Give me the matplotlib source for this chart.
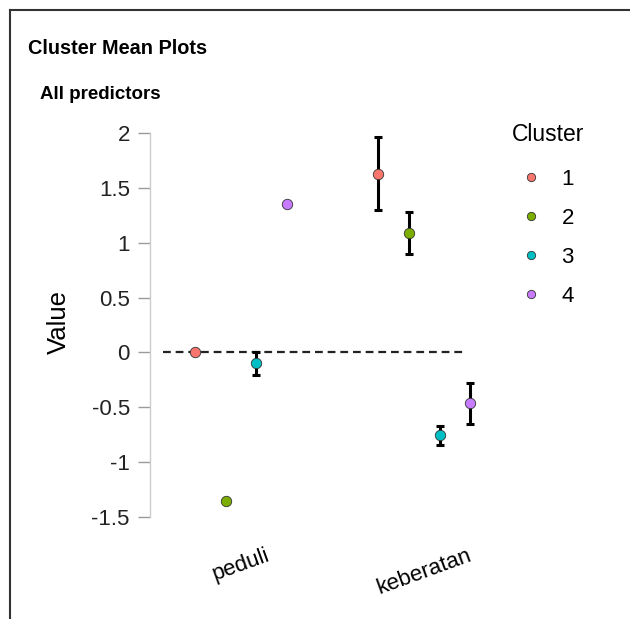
import matplotlib
matplotlib.use("Agg")
from matplotlib import pyplot as plt
from matplotlib.lines import Line2D
from matplotlib.transforms import ScaledTranslation
import numpy as np

plt.rcParams['font.family'] = ['Liberation Sans', 'DejaVu Sans']

# data
predictors = ['peduli', 'keberatan']
clusters = ['1', '2', '3', '4']
colors = ['#F8766D', '#7CAE00', '#00BFC4', '#C77CFF']
means = {
    '1': [0.0, 1.63],
    '2': [-1.35, 1.085],
    '3': [-0.10, -0.757],
    '4': [1.35, -0.465],
}
errs = {
    '1': [0.0, 0.33],
    '2': [0.0, 0.19],
    '3': [0.105, 0.088],
    '4': [0.0, 0.187],
}
yticks = [-1.5, -1, -0.5, 0, 0.5, 1, 1.5, 2]
ytick_labels = ['-1.5', '-1', '-0.5', '0', '0.5', '1', '1.5', '2']

fig = plt.figure(figsize=(6.3, 6.19), dpi=100)
ax = fig.add_axes([0.238, 0.147, 0.54, 0.656])

x = np.arange(len(predictors))
dodge = 0.168
for i, c in enumerate(clusters):
    xs = x + (i - 1.5) * dodge
    ys = np.array(means[c])
    es = np.array(errs[c])
    has = es > 0
    ax.errorbar(xs[has], ys[has], yerr=es[has], fmt='none', ecolor='black',
                elinewidth=2.2, capsize=3, capthick=2.2, zorder=3)
    ax.plot(xs, ys, 'o', color=colors[i], markeredgecolor='#333333',
            markeredgewidth=0.6, markersize=7.5, zorder=4)

ax.axhline(0, xmin=0.038, xmax=0.93, color='#222222', linestyle=(0, (3.5, 2.2)),
           linewidth=1.6, zorder=1)

ax.set_xlim(-0.497, 1.36)
ax.set_ylim(-1.6, 2.1)
ax.set_yticks(yticks)
ax.set_yticklabels(ytick_labels)
ax.set_xticks(x)
ax.set_xticklabels(predictors, rotation=20, ha='center', fontsize=16)
shift = ScaledTranslation(-10 / 100, 0, fig.dpi_scale_trans)
for lab in ax.get_xticklabels():
    lab.set_transform(lab.get_transform() + shift)
ax.tick_params(axis='x', length=0, pad=12)
ax.tick_params(axis='y', length=8.5, width=1, color='#9a9a9a', labelsize=16,
               pad=6, labelcolor='#222222')

for s in ['top', 'right', 'bottom']:
    ax.spines[s].set_visible(False)
ax.spines['left'].set_bounds(-1.5, 2)
ax.spines['left'].set_color('#cccccc')
ax.spines['left'].set_linewidth(1)

ax.set_ylabel('Value', fontsize=18.5)
ax.yaxis.set_label_coords(-0.233, 0.507)

handles = [Line2D([], [], marker='o', linestyle='none', color=colors[i],
                  markeredgecolor='#333333', markeredgewidth=0.6, markersize=6)
           for i in range(len(clusters))]
leg = fig.legend(handles, clusters, loc='upper left',
                 bbox_to_anchor=(0.767, 0.774), frameon=False, fontsize=16,
                 labelspacing=0.81, handletextpad=0.52,
                 handlelength=1.7, borderpad=0.8)
fig.text(0.8127, 0.7835, 'Cluster', fontsize=16.5, va='center')

fig.text(0.044, 0.922, 'Cluster Mean Plots', fontsize=14.3, fontweight='bold',
         va='center')
fig.text(0.063, 0.847, 'All predictors', fontsize=13.5, fontweight='bold',
         va='center')

# panel frame (top and left edges)
fig.add_artist(Line2D([10 / 630, 10 / 630], [0, 1 - 10 / 619], color='#333333',
                      linewidth=1.5, transform=fig.transFigure))
fig.add_artist(Line2D([10 / 630, 1], [1 - 10 / 619, 1 - 10 / 619], color='#333333',
                      linewidth=1.5, transform=fig.transFigure))

fig.savefig('out.png', dpi=100)
